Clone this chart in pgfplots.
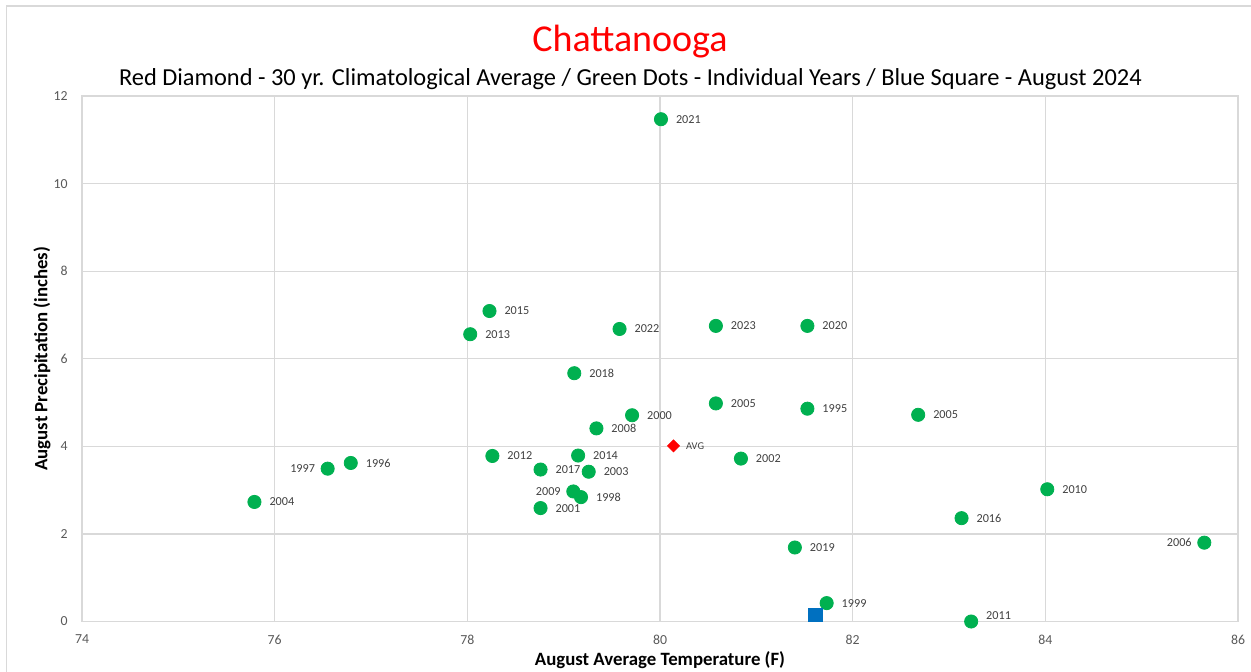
\documentclass[border=0pt]{standalone}
\usepackage{fontspec}
\setmainfont{Carlito}
\usepackage{pgfplots}
\usepackage{pgfplotstable}
\pgfplotsset{compat=1.18}
\definecolor{ptgreen}{HTML}{00B050}
\definecolor{ptred}{HTML}{FF0000}
\definecolor{ptblue}{HTML}{0070C0}
\definecolor{gridc}{HTML}{D9D9D9}
\definecolor{tickc}{HTML}{595959}
\definecolor{labc}{HTML}{404040}

\pgfplotstableread{
x y label
80.01 11.47 2021
78.23 7.09 2015
78.03 6.56 2013
79.58 6.68 2022
80.58 6.75 2023
81.53 6.75 2020
79.11 5.67 2018
80.58 4.98 2005
81.53 4.86 1995
82.68 4.72 2005
79.71 4.71 2000
79.34 4.41 2008
80.84 3.72 2002
78.26 3.78 2012
79.15 3.79 2014
76.79 3.62 1996
78.76 3.47 2017
79.26 3.42 2003
84.02 3.02 2010
79.18 2.84 1998
75.79 2.73 2004
78.76 2.59 2001
83.13 2.36 2016
81.40 1.69 2019
81.73 0.42 1999
}\rightyears

\pgfplotstableread{
x y label
76.55 3.49 1997
79.10 2.97 2009
85.65 1.80 2006
}\leftyears

\pgfplotstableread{
x y label
83.23 0.00 2011
}\upyears

\pgfplotstableread{
x y label
80.14 4.01 AVG
}\avgdata

\pgfplotstableread{
x y
81.61 0.15
}\curdata

\begin{document}
\begin{tikzpicture}[x=1pt,y=1pt]
\useasboundingbox (0,0) rectangle (625.5,335.5);
\draw[gridc, line width=0.75pt] (3.35,-5) -- (3.35,332.5) -- (640,332.5);
\begin{axis}[
  at={(41pt,24.75pt)}, anchor=south west,
  scale only axis, width=578pt, height=262.75pt,
  xmin=74, xmax=86, ymin=0, ymax=12,
  xtick={74,76,...,86}, ytick={0,2,...,12},
  grid=major,
  major grid style={gridc, line width=0.6pt},
  axis line style={gridc, line width=0.8pt},
  tick style={draw=none},
  /pgf/number format/assume math mode=true,
  ticklabel style={font=\fontsize{6.9}{8}\selectfont, text=tickc},
  xticklabel style={yshift=-3.2pt},
  yticklabel style={xshift=-3.6pt},
  xlabel={\bfseries August Average Temperature (F)},
  ylabel={\bfseries August Precipitation (inches)},
  label style={font=\fontsize{9.4}{11}\selectfont, text=black},
  xlabel style={at={(axis description cs:0.5,-0.0742)}, anchor=center},
  ylabel style={at={(axis description cs:-0.0346,0.5)}, anchor=center},
  clip=false,
]
\addplot[only marks, mark=*, mark size=3.3pt, color=ptgreen,
  nodes near coords, point meta=explicit symbolic,
  nodes near coords style={anchor=west, xshift=4pt, font=\fontsize{6.1}{7}\selectfont, text=labc}]
  table[x=x, y=y, meta=label] {\rightyears};
\addplot[only marks, mark=*, mark size=3.3pt, color=ptgreen,
  nodes near coords, point meta=explicit symbolic,
  nodes near coords style={anchor=east, xshift=-2.8pt, font=\fontsize{6.1}{7}\selectfont, text=labc}]
  table[x=x, y=y, meta=label] {\leftyears};
\addplot[only marks, mark=*, mark size=3.3pt, color=ptgreen,
  nodes near coords, point meta=explicit symbolic,
  nodes near coords style={anchor=west, xshift=4pt, yshift=3pt, font=\fontsize{6.1}{7}\selectfont, text=labc}]
  table[x=x, y=y, meta=label] {\upyears};
\addplot[only marks, mark=square*, mark size=2.1pt, mark options={rotate=45}, color=ptred,
  nodes near coords, point meta=explicit symbolic,
  nodes near coords style={anchor=west, xshift=2.8pt, font=\fontsize{5.2}{6}\selectfont, text=labc}]
  table[x=x, y=y, meta=label] {\avgdata};
\addplot[only marks, mark=square*, mark size=3.4pt, color=ptblue]
  table[x=x, y=y] {\curdata};
\end{axis}
\node[text=ptred, font=\fontsize{19}{22}\selectfont] at (315,314.5) {Chattanooga};
\node[text=black, font=\fontsize{12.2}{14}\selectfont] at (315.2,296) {Red Diamond - 30 yr. Climatological Average / Green Dots - Individual Years / Blue Square - August 2024};
\end{tikzpicture}
\end{document}
